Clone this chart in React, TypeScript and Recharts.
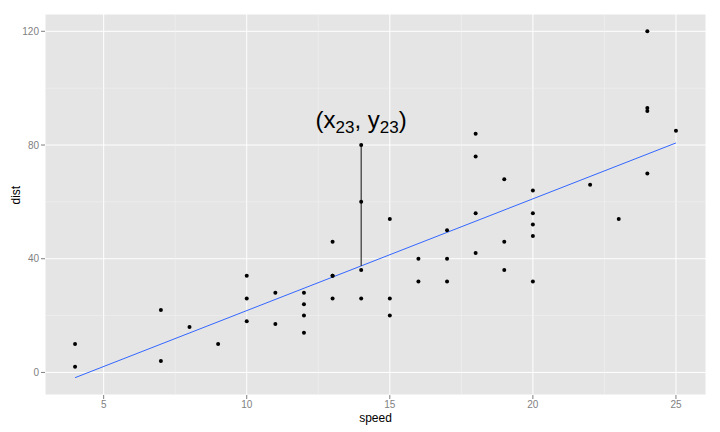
import React from "react";
import {
  ComposedChart,
  Scatter,
  Line,
  XAxis,
  YAxis,
  CartesianGrid,
  ReferenceLine,
  ReferenceDot,
} from "recharts";

// cars dataset
const speed = [
  4, 4, 7, 7, 8, 9, 10, 10, 10, 11, 11, 12, 12, 12, 12, 13, 13, 13, 13, 14,
  14, 14, 14, 15, 15, 15, 16, 16, 17, 17, 17, 18, 18, 18, 18, 19, 19, 19, 20,
  20, 20, 20, 20, 22, 23, 24, 24, 24, 24, 25,
];
const dist = [
  2, 10, 4, 22, 16, 10, 18, 26, 34, 17, 28, 14, 20, 24, 28, 26, 34, 34, 46,
  26, 36, 60, 80, 20, 26, 54, 32, 40, 32, 40, 50, 42, 56, 76, 84, 36, 46, 68,
  32, 48, 52, 56, 64, 66, 54, 70, 92, 93, 120, 85,
];
const xTicks = [5, 10, 15, 20, 25];
const yTicks = [0, 40, 80, 120];
const xMinor = [7.5, 12.5, 17.5, 22.5];
const yMinor = [20, 60, 100];
const highlight = 22; // 23rd observation

const points = speed.map((s, i) => ({ x: s, y: dist[i] }));

// least squares fit
const n = speed.length;
const mx = speed.reduce((a, b) => a + b, 0) / n;
const my = dist.reduce((a, b) => a + b, 0) / n;
let sxy = 0;
let sxx = 0;
speed.forEach((s, i) => {
  sxy += (s - mx) * (dist[i] - my);
  sxx += (s - mx) * (s - mx);
});
const slope = sxy / sxx;
const intercept = my - slope * mx;
const fit = (x: number) => intercept + slope * x;
const xMin = Math.min(...speed);
const xMax = Math.max(...speed);
const fitData = [
  { x: xMin, fy: fit(xMin) },
  { x: xMax, fy: fit(xMax) },
];

const hx = speed[highlight];
const hy = dist[highlight];

const tickStyle = { fill: "#7F7F7F", fontSize: 10 };

const SubLabel = (props: any) => {
  const { cx, cy } = props;
  return (
    <text
      x={cx}
      y={cy}
      textAnchor="middle"
      fontSize={24}
      fill="#000"
      fontFamily="Liberation Sans, Arial, sans-serif"
    >
      (x<tspan fontSize={17} dy={5}>23</tspan>
      <tspan dy={-5}>, y</tspan>
      <tspan fontSize={17} dy={5}>23</tspan>
      <tspan dy={-5}>)</tspan>
    </text>
  );
};

const App = () => {
  return (
    <div
      style={{
        position: "absolute",
        left: 0,
        top: 0,
        width: 720,
        height: 432,
        background: "#fff",
        fontFamily: "Liberation Sans, Arial, sans-serif",
      }}
    >
      <ComposedChart
        width={720}
        height={432}
        margin={{ top: 14, right: 14, bottom: 0, left: 0 }}
      >
        <CartesianGrid fill="#E5E5E5" stroke="#FFFFFF" strokeWidth={1} />
        {xMinor.map((v) => (
          <ReferenceLine key={`xm${v}`} x={v} stroke="#F2F2F2" strokeWidth={0.6} />
        ))}
        {yMinor.map((v) => (
          <ReferenceLine key={`ym${v}`} y={v} stroke="#F2F2F2" strokeWidth={0.6} />
        ))}
        <XAxis
          dataKey="x"
          type="number"
          domain={[2.95, 26.05]}
          ticks={xTicks}
          allowDataOverflow
          axisLine={false}
          tickSize={4}
          tickLine={{ stroke: "#7F7F7F" }}
          tick={tickStyle}
          height={37}
          label={{ value: "speed", position: "insideBottom", offset: 10, fill: "#000", fontSize: 12 }}
        />
        <YAxis
          type="number"
          domain={[-7.94, 126.09]}
          ticks={yTicks}
          allowDataOverflow
          axisLine={false}
          tickSize={4}
          tickLine={{ stroke: "#7F7F7F" }}
          tick={tickStyle}
          width={45}
          label={{ value: "dist", angle: -90, position: "insideLeft", offset: 16, fill: "#000", fontSize: 12 }}
        />
        <Line
          data={fitData}
          dataKey="fy"
          stroke="#3366FF"
          strokeWidth={1}
          dot={false}
          activeDot={false}
          isAnimationActive={false}
        />
        <ReferenceLine
          segment={[
            { x: hx, y: hy },
            { x: hx, y: fit(hx) },
          ]}
          stroke="#333333"
          strokeWidth={1.2}
        />
        <Scatter
          data={points}
          dataKey="y"
          fill="#000"
          isAnimationActive={false}
          shape={(p: any) => <circle cx={p.cx} cy={p.cy} r={2} fill="#000" />}
        />
        <ReferenceDot x={hx} y={hy + 6} r={0} shape={SubLabel} />
      </ComposedChart>
    </div>
  );
};

export default App;
